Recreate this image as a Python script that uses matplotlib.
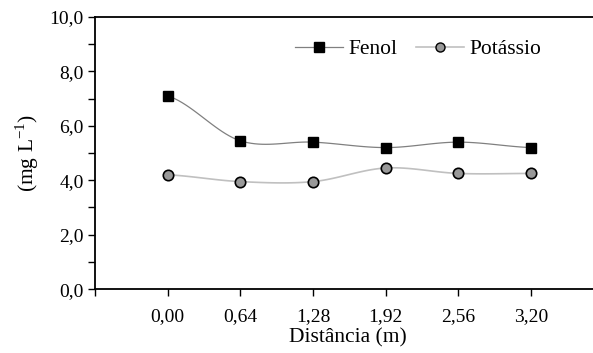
import matplotlib.pyplot as plt
from matplotlib.ticker import MultipleLocator, FixedLocator
import numpy as np

distances = ['0,00', '0,64', '1,28', '1,92', '2,56', '3,20']
fenol = [7.1, 5.45, 5.4, 5.2, 5.4, 5.2]
potassio = [4.2, 3.95, 3.95, 4.45, 4.25, 4.25]

plt.rcParams['font.family'] = ['Liberation Serif', 'DejaVu Serif']
plt.rcParams['font.size'] = 14


def smooth(y, n=20):
    # catmull-rom through the points, just for the curved connector
    y = np.asarray(y, float)
    x = np.arange(len(y), dtype=float)
    p = np.concatenate([[y[0]], y, [y[-1]]])
    xs, ys = [], []
    for i in range(len(y) - 1):
        t = np.linspace(0, 1, n, endpoint=False)
        p0, p1, p2, p3 = p[i], p[i + 1], p[i + 2], p[i + 3]
        yy = 0.5 * ((2 * p1) + (-p0 + p2) * t + (2 * p0 - 5 * p1 + 4 * p2 - p3) * t ** 2
                    + (-p0 + 3 * p1 - 3 * p2 + p3) * t ** 3)
        xs.append(x[i] + t)
        ys.append(yy)
    xs.append([x[-1]])
    ys.append([y[-1]])
    return np.concatenate(xs), np.concatenate(ys)


fig = plt.figure(figsize=(5.93, 3.53), dpi=100)
ax = fig.add_axes([0.160, 0.181, 0.840, 0.771])

idx = np.arange(len(distances))
sx, sy = smooth(fenol)
ax.plot(sx, sy, color='#808080', lw=0.9, zorder=2)
ax.plot(idx, fenol, ls='none', marker='s', ms=7.5, mfc='black', mec='black', zorder=3)
sx, sy = smooth(potassio)
ax.plot(sx, sy, color='#c0c0c0', lw=1.2, zorder=2)
ax.plot(idx, potassio, ls='none', marker='o', ms=7.5, mfc='#999999', mec='black',
        mew=1.2, zorder=3)

# legend handles
ax.plot([], [], color='#808080', lw=0.9, marker='s', ms=6.5, mfc='black', mec='black', label='Fenol')
ax.plot([], [], color='#c0c0c0', lw=1.2, marker='o', ms=6.5, mfc='#999999', mec='black',
        label='Potássio')
ax.legend(loc='upper left', bbox_to_anchor=(0.385, 0.95), ncol=2, frameon=False,
          fontsize=15.5, handlelength=2.2, handletextpad=0.25, columnspacing=0.9,
          borderaxespad=0)

ax.set_xlim(-1, 5.85)
ax.set_ylim(0, 10)
ax.xaxis.set_major_locator(FixedLocator([-1] + list(idx)))
ax.set_xticklabels([''] + distances)
ax.set_yticks(np.arange(0, 11, 2))
ax.yaxis.set_minor_locator(MultipleLocator(1))
ax.set_yticklabels([('%.1f' % v).replace('.', ',') for v in np.arange(0, 11, 2)])

ax.tick_params(direction='out', length=5, width=1, labelsize=14)
ax.tick_params(axis='x', pad=9)
ax.tick_params(axis='y', pad=3)
ax.tick_params(axis='y', which='minor', direction='out', length=5, width=1)
ax.spines['right'].set_visible(False)
for s in ['left', 'bottom', 'top']:
    ax.spines[s].set_linewidth(1.3)

ax.set_xlabel('Distância (m)', fontsize=15.5)
ax.xaxis.set_label_coords(0.508, -0.145)
ax.set_ylabel('(mg L$^{\\mathregular{-1}}$)', fontsize=15.5, labelpad=6)

fig.savefig('out.png', dpi=100)
